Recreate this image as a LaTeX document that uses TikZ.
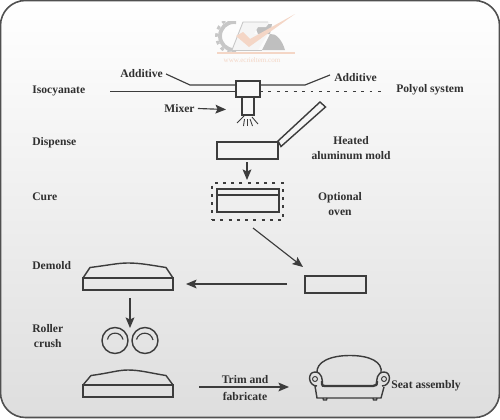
\documentclass[tikz,border=0pt]{standalone}
\usepackage{fontspec}
\setmainfont{Liberation Serif}
\usetikzlibrary{arrows.meta}
\definecolor{ink}{HTML}{3C3C3C}
\definecolor{peach}{HTML}{F4D6C6}
\newcommand{\pxu}{0.02cm}
\tikzset{
 x=0.02cm,y=-0.02cm,
 lbl/.style={font=\fontsize{6.6}{8}\selectfont\bfseries,text=ink!80!black,align=center,inner sep=0},
 ln/.style={draw=ink,line width=0.65pt},
 arr/.style={ln,-{Stealth[length=6pt,width=5pt,inset=1.2pt]}},
 part/.style={draw=ink,line width=0.8pt},
 box/.style n args={2}{part,draw,minimum width=#1*\pxu,minimum height=#2*\pxu,inner sep=0,outer sep=0},
}
\begin{document}
\begin{tikzpicture}
\useasboundingbox (0,0) rectangle (500,419);
\fill[white] (0,0) rectangle (500,419);
\path[top color=white,bottom color=black!13,draw=ink!90,line width=0.9pt,rounded corners=0.5cm]
 (0.5,0.5) rectangle (499.5,417.5);
% watermark
\begin{scope}
\clip (205,21) rectangle (236,51);
\draw[black!22,line width=2.2pt] (234,36) circle (14);
\draw[black!22,line width=1.6pt,dash pattern=on 2pt off 2.4pt] (234,36) circle (17.5);
\end{scope}
\fill[black!25] (262,50) -- (270,34) .. controls (276,33) and (282,40) .. (285,50) -- cycle;
\fill[black!25] (254,24) -- (272,24) -- (270,34) -- (258,34) -- cycle;
\fill[white!96!black] (232,50) -- (243,22) -- (270,22) -- (266,27) -- (258,27) -- (254,34) -- (268,34) -- (258,50) -- cycle;
\draw[black!22,line width=0.5pt] (232,50) -- (243,22) -- (268,22);
\draw[black!22,line width=0.5pt] (232,50) -- (262,50);
\fill[peach] (236,36) -- (249,47) -- (295,14) -- (250,39) -- (243,32) -- cycle;
\draw[peach,line width=0.7pt] (217,53) -- (295,53);
\node[font=\fontsize{4}{4}\selectfont,text=peach,inner sep=0] (web) at (252,60) {www.ecrieltem.com};
% labels
\node[lbl,anchor=west] (iso) at (32,90.5) {Isocyanate};
\node[lbl,anchor=west] (add1) at (120,73.5) {Additive};
\node[lbl,anchor=west] (add2) at (334,77.5) {Additive};
\node[lbl,anchor=west] (poly) at (396,89.5) {Polyol system};
\node[lbl,anchor=west] (mix) at (164,108.5) {Mixer};
\node[lbl,anchor=west] (disp) at (32,142.5) {Dispense};
\node[lbl] (heat) at (351,148) {Heated\\[1pt]aluminum mold};
\node[lbl,anchor=west] (cure) at (32,196.5) {Cure};
\node[lbl] (opt) at (340,204) {Optional\\[1pt]oven};
\node[lbl,anchor=west] (dem) at (32,265.5) {Demold};
\node[lbl,anchor=west] (rol) at (32,336) {Roller\\[1pt]crush};
\node[lbl] (trim) at (245,388) {Trim and\\[1.2pt]fabricate};
\node[lbl,anchor=west] (seat) at (391,386) {Seat assembly};
% mixer
\node[box={24}{16}] (head) at (248,89) {};
\node[box={12}{18},anchor=north] (noz) at (248,97) {};
\coordinate (isoL) at (110,91.5);
\coordinate (polyR) at (386,91.5);
\coordinate (a1s) at (166,74); \coordinate (a1k) at (190,85);
\coordinate (a2s) at (330,75); \coordinate (a2k) at (305,85);
\draw[ln] (isoL) -- (head.west |- isoL);
\draw[ln,line width=0.9pt,dash pattern=on 1.6pt off 3.2pt] (head.east |- polyR) -- (polyR);
\draw[ln] (a1s) -- (a1k) -- (head.west |- a1k);
\draw[ln] (a2s) -- (a2k) -- (head.east |- a2k);
\coordinate (marr) at (226,109.5);
\draw[arr] (mix.east) ++(3,0) coordinate (mfrom) -- (marr);
% spray
\draw[ln,line width=0.5pt] (244,116) -- (237,123);
\draw[ln,line width=0.5pt] (244.5,119) -- (243.5,126);
\draw[ln,line width=0.5pt] (247,119) -- (247,126);
\draw[ln,line width=0.5pt] (250,119) -- (252.5,126);
\draw[ln,line width=0.5pt] (252,117) -- (258,124);
% mold
\node[box={61}{17}] (mold) at (247.5,150.5) {};
\draw[part] (278,141) -- (320,102) -- (325.5,107) -- (281,146.5) -- cycle;
\coordinate (c1) at (247,162);
\node[box={62}{23}] (ovb) at (248,200.5) {};
\draw[part] (217,195) -- (279,195);
\node[draw=ink,line width=1pt,dash pattern=on 1.7pt off 3pt,minimum width=71*\pxu,minimum height=37*\pxu,inner sep=0] (oven) at (247.5,201.5) {};
\draw[arr] (c1) -- (247,180);
\coordinate (o1) at (253,228);
\coordinate (o2) at (303,267);
\draw[arr] (o1) -- (o2);
\node[box={61}{17}] (rect) at (335.5,284.5) {};
% demold
\node[box={90}{12}] (dpart) at (128,284) {};
\draw[part] (83,278) -- (90,267.5) .. controls (110,265) and (118,263) .. (128,263) .. controls (140,263) and (150,265) .. (166,267.5) -- (173,278);
\coordinate (ra) at (287,284);
\draw[arr] (ra) -- (186,284);
\coordinate (d1) at (130,298);
\coordinate (d2) at (130,328);
\draw[arr] (d1) -- (d2);
% rollers
\node[box={26}{26},circle] (r1) at (115,340.5) {};
\node[box={26}{26},circle] (r2) at (145,340.5) {};
\draw[ln] (107.5,339.5) .. controls (109,331) and (121,331) .. (123,339.5);
\draw[ln] (136.5,339.5) .. controls (139,331) and (151,331) .. (153,340);
% final part
\node[box={90}{12}] (fpart) at (128,391) {};
\draw[part] (83,385) -- (91,375.5) .. controls (110,373) and (118,370) .. (128,370) .. controls (140,370) and (150,373) .. (166,375.5) -- (173,385);
\coordinate (t1) at (199,387);
\coordinate (t2) at (289,387);
\draw[arr] (t1) -- (t2);
% sofa
\draw[part] (317,373) .. controls (316,362) and (330,355.5) .. (350,355.5) .. controls (370,355.5) and (383,362) .. (381,373);
\draw[part] (317,386) .. controls (308,386) and (307,372) .. (315,372) .. controls (322,372) and (323,380) .. (322,385);
\draw[part] (382,386) .. controls (391,386) and (392,372) .. (384,372) .. controls (377,372) and (376,380) .. (377,385);
\draw[part,line width=1.3pt] (322,381) -- (322,384) .. controls (322,386) and (323,386) .. (326,386) -- (373,386) .. controls (376,386) and (377,385) .. (377,381);
\draw[part] (315,386) -- (317,398) -- (381,398) -- (384,387);
\draw[part,line width=0.55pt] (315,379) circle (2.5);
\draw[part,line width=0.55pt] (384,379) circle (2.5);
\draw[part] (323,398) -- (323.5,400) -- (326.5,400) -- (327,398);
\draw[part] (373,398) -- (373.5,400) -- (376.5,400) -- (377,398);
\end{tikzpicture}
\end{document}
